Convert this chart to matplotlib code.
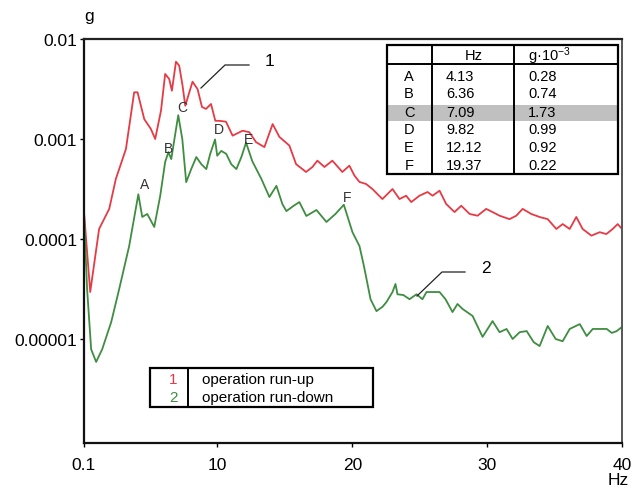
import numpy as np
import matplotlib
matplotlib.use("Agg")
import matplotlib.pyplot as plt
from matplotlib.lines import Line2D
from matplotlib.patches import Rectangle

# ---- data -------------------------------------------------------------
# run-up spectrum (curve 1)
up_hz = [0.10, 0.56, 1.22, 1.97, 2.46, 3.21, 3.82, 4.07, 4.57, 5.06, 5.38,
         5.81, 6.12, 6.42, 6.62, 6.92, 7.16, 7.41, 7.61, 7.91, 8.15, 8.52,
         8.85, 9.15, 9.52, 9.84, 10.13, 10.63, 11.12, 11.86, 12.36, 12.86,
         13.48, 14.09, 14.59, 15.33, 15.83, 16.57, 17.04, 17.41, 17.93, 18.52,
         19.26, 19.78, 20.16, 20.53, 21.02, 21.49, 22.23, 22.98, 23.50, 23.99,
         24.37, 24.98, 25.58, 25.95, 26.47, 26.96, 27.58, 28.08, 28.70, 29.29,
         29.93, 30.40, 30.92, 31.66, 32.16, 32.63, 33.27, 33.89, 34.49, 35.13,
         35.60, 36.12, 36.61, 37.08, 37.73, 38.35, 38.84, 39.31, 39.68, 40.0]
up_g = [1.86e-4, 2.95e-5, 1.26e-4, 2.0e-4, 3.98e-4, 7.94e-4, 2.93e-3, 2.93e-3,
        1.58e-3, 1.26e-3, 1.0e-3, 1.92e-3, 4.47e-3, 3.98e-3, 3.04e-3, 5.93e-3,
        5.41e-3, 3.41e-3, 2.15e-3, 2.93e-3, 3.74e-3, 3.16e-3, 2.09e-3, 2.0e-3,
        2.24e-3, 1.52e-3, 1.52e-3, 1.49e-3, 1.08e-3, 1.21e-3, 1.17e-3, 9.3e-4,
        8.3e-4, 1.41e-3, 1.05e-3, 8.6e-4, 5.6e-4, 4.68e-4, 5.25e-4, 6.07e-4,
        5.25e-4, 6.07e-4, 4.68e-4, 5.41e-4, 4.30e-4, 3.72e-4, 3.55e-4, 3.16e-4,
        2.51e-4, 3.16e-4, 2.51e-4, 2.71e-4, 2.34e-4, 2.71e-4, 2.95e-4, 2.71e-4,
        3.04e-4, 2.24e-4, 1.86e-4, 2.15e-4, 1.78e-4, 1.71e-4, 2.0e-4, 1.86e-4,
        1.71e-4, 1.58e-4, 1.71e-4, 2.0e-4, 1.78e-4, 1.66e-4, 1.58e-4, 1.26e-4,
        1.41e-4, 1.26e-4, 1.66e-4, 1.26e-4, 1.08e-4, 1.17e-4, 1.12e-4, 1.26e-4,
        1.41e-4, 1.26e-4]

# run-down spectrum (curve 2), without the labelled peaks
down_hz = [0.1, 0.33, 0.63, 1.00, 1.45, 2.12, 2.71, 3.45, 4.42, 4.79, 5.31,
           5.75, 6.12, 6.57, 7.39, 7.68, 8.05, 8.43, 8.80, 9.17, 9.46, 9.98,
           10.28, 10.65, 11.02, 11.40, 11.77, 12.58, 13.25, 13.85, 14.37, 14.81,
           15.11, 15.63, 16.07, 16.59, 17.34, 18.08, 18.75, 20.01, 20.53, 20.83,
           21.05, 21.35, 21.79, 22.24, 22.53, 22.98, 23.20, 23.35, 23.79, 24.24,
           24.76, 25.20, 25.50, 26.47, 26.91, 27.43, 27.80, 28.17, 28.92, 29.66,
           30.40, 30.92, 31.44, 31.89, 32.41, 32.93, 33.45, 33.89, 34.49, 35.08,
           35.60, 36.12, 36.87, 37.38, 37.83, 38.35, 38.87, 39.24, 39.61, 40.0]
down_g = [1.78e-4, 3.16e-5, 7.9e-6, 5.9e-6, 7.9e-6, 1.48e-5, 3.16e-5, 8.5e-5,
          1.66e-4, 1.78e-4, 1.32e-4, 2.69e-4, 5.9e-4, 6.3e-4, 1.0e-3, 3.7e-4,
          5.0e-4, 6.6e-4, 5.6e-4, 5.0e-4, 7.1e-4, 6.8e-4, 7.6e-4, 7.1e-4,
          5.6e-4, 5.0e-4, 6.6e-4, 6.0e-4, 4.0e-4, 2.63e-4, 3.4e-4, 2.24e-4,
          1.9e-4, 2.14e-4, 2.34e-4, 1.7e-4, 1.95e-4, 1.48e-4, 1.78e-4, 1.17e-4,
          8.5e-5, 5.6e-5, 4.0e-5, 2.5e-5, 1.9e-5, 2.1e-5, 2.34e-5, 2.95e-5,
          3.55e-5, 2.8e-5, 2.75e-5, 2.5e-5, 2.8e-5, 2.5e-5, 2.95e-5, 2.95e-5,
          2.5e-5, 1.86e-5, 2.24e-5, 2.0e-5, 1.7e-5, 1.05e-5, 1.51e-5, 1.17e-5,
          1.26e-5, 1.0e-5, 1.17e-5, 1.2e-5, 9.3e-6, 8.5e-6, 1.35e-5, 1.0e-5,
          9.5e-6, 1.26e-5, 1.41e-5, 1.07e-5, 1.26e-5, 1.26e-5, 1.26e-5,
          1.15e-5, 1.2e-5, 1.32e-5]

# labelled peaks of the run-down curve (amplitude in g*1e-3)
peak_names = ["A", "B", "C", "D", "E", "F"]
peak_hz = [4.13, 6.36, 7.09, 9.82, 12.12, 19.37]
peak_mg = [0.28, 0.74, 1.73, 0.99, 0.92, 0.22]

x_ticks = [0.1, 10, 20, 30, 40]
x_labels = ["0.1", "10", "20", "30", "40"]
y_ticks = [1e-5, 1e-4, 1e-3, 1e-2]
y_labels = ["0.00001", "0.0001", "0.001", "0.01"]

series_names = ["operation run-up", "operation run-down"]

# ---- styling ----------------------------------------------------------
plt.rcParams["font.family"] = ["Liberation Sans", "DejaVu Sans"]
plt.rcParams["mathtext.fontset"] = "custom"
plt.rcParams["mathtext.rm"] = "Liberation Sans"
plt.rcParams["mathtext.default"] = "regular"

RED = "#e63a45"
GREEN = "#3f8d41"
W, H = 633, 489

fig = plt.figure(figsize=(W / 100, H / 100), dpi=100)
ax = fig.add_axes([84 / W, 1 - 444 / H, (622 - 84) / W, (444 - 40) / H])


def px(x, y):
    """pixel position (from top-left) -> figure fraction"""
    return x / W, 1 - y / H


# merge the labelled peaks into the run-down curve
pk_g = np.array(peak_mg) * 1e-3
d_hz = np.concatenate([down_hz, peak_hz])
d_g = np.concatenate([down_g, pk_g])
order = np.argsort(d_hz)
d_hz, d_g = d_hz[order], d_g[order]

ax.plot(up_hz, up_g, color=RED, lw=1.3, solid_joinstyle="round")
ax.plot(d_hz, d_g, color=GREEN, lw=1.3, solid_joinstyle="round")

ax.set_yscale("log")
ax.set_xlim(0.1, 40)
ax.set_ylim(10 ** -6.04, 1e-2)
ax.set_xticks(x_ticks)
ax.set_xticklabels(x_labels)
ax.set_yticks(y_ticks)
ax.set_yticklabels(y_labels)
ax.yaxis.set_minor_locator(matplotlib.ticker.NullLocator())
ax.tick_params(axis="both", direction="out", length=3, width=1,
               labelsize=12.5, colors="black")
ax.tick_params(axis="x", pad=7)
ax.tick_params(axis="y", pad=2)

for side in ("left", "bottom"):
    ax.spines[side].set_linewidth(1.6)
    ax.spines[side].set_color("#111111")
ax.spines["top"].set_linewidth(1.6)
ax.spines["top"].set_color("#222222")
ax.spines["right"].set_linewidth(1.4)
ax.spines["right"].set_color("#555555")

# axis unit labels
fig.text(*px(89, 16), "g", fontsize=12.5, ha="center", va="center")
fig.text(*px(618, 481), "Hz", fontsize=12.5, ha="center", va="center")

# peak letters on curve 2
letter_offsets = [(6, 10), (0, 4), (4, 8), (4, 10), (2, 4), (3, 8)]
for name, f, g, off in zip(peak_names, peak_hz, pk_g, letter_offsets):
    ax.annotate(name, (f, g), xytext=off, textcoords="offset pixels",
                fontsize=10, color="#333333", ha="center", va="center")

# leader lines with curve numbers
for pts, num, tpos in [
    ([(201, 89), (225, 66), (249, 66)], "1", (270, 62)),
    ([(417, 297), (442, 273), (465, 273)], "2", (486, 269)),
]:
    xs, ys = zip(*[px(*p) for p in pts])
    fig.add_artist(Line2D(xs, ys, color="#222222", lw=0.9))
    fig.text(*px(*tpos), num, fontsize=12.5, ha="center", va="center")

# ---- peak table -------------------------------------------------------
tl, tr, tt, tb = 387, 618, 46, 175
c1, c2, hdr = 432, 514, 65
band_top, band_bot = 106, 122
fig.add_artist(Rectangle(px(tl, band_bot), (tr - tl) / W,
                         (band_bot - band_top) / H, transform=fig.transFigure,
                         facecolor="#c0c0c0", edgecolor="none", zorder=3))
fig.add_artist(Rectangle(px(tl, tb), (tr - tl) / W, (tb - tt) / H,
                         transform=fig.transFigure, facecolor="none",
                         edgecolor="black", lw=1.6, zorder=4))
for xv in (c1, c2):
    xs, ys = zip(px(xv, tt), px(xv, tb))
    fig.add_artist(Line2D(xs, ys, color="black", lw=1.4, zorder=4))
xs, ys = zip(px(tl, hdr), px(tr, hdr))
fig.add_artist(Line2D(xs, ys, color="black", lw=1.4, zorder=4))

fig.text(*px(474, 56), "Hz", fontsize=10.5, ha="center", va="center", zorder=5)
fig.text(*px(528, 56), r"g·10$^{-3}$", fontsize=10.5, ha="left",
         va="center", zorder=5)
row_y = [77, 94, 113, 130, 148, 166]
for name, f, a, yy in zip(peak_names, peak_hz, peak_mg, row_y):
    fig.text(*px(409, yy), name, fontsize=10.5, ha="center", va="center", zorder=5)
    fig.text(*px(446, yy), f"{f:.2f}", fontsize=10.5, ha="left", va="center", zorder=5)
    fig.text(*px(528, yy), f"{a:.2f}", fontsize=10.5, ha="left", va="center", zorder=5)

# ---- legend box -------------------------------------------------------
lx0, lx1, ly0, ly1, ldiv = 150, 373, 369, 408, 188
fig.add_artist(Rectangle(px(lx0, ly1), (lx1 - lx0) / W, (ly1 - ly0) / H,
                         transform=fig.transFigure, facecolor="white",
                         edgecolor="black", lw=1.6, zorder=4))
xs, ys = zip(px(ldiv, ly0), px(ldiv, ly1))
fig.add_artist(Line2D(xs, ys, color="black", lw=1.4, zorder=4))
for i, (name, col, yy) in enumerate(zip(series_names, [RED, GREEN], [380, 398])):
    fig.text(*px(173, yy), str(i + 1), color=col, fontsize=11, ha="center",
             va="center", zorder=5)
    fig.text(*px(202, yy), name, fontsize=11, ha="left", va="center", zorder=5)

fig.savefig("out.png", dpi=100)
